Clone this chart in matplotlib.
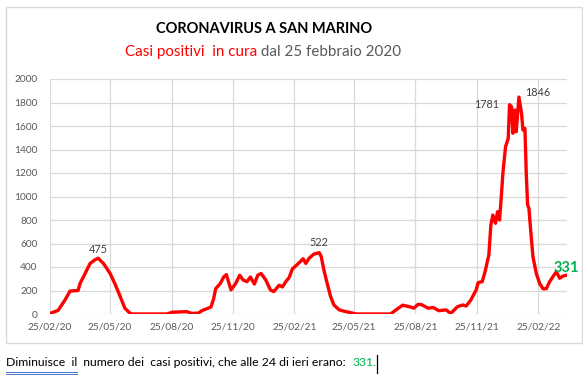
import matplotlib
matplotlib.use('Agg')
import matplotlib.pyplot as plt
import matplotlib.dates as mdates
from matplotlib.lines import Line2D
from matplotlib.patches import Rectangle
import pandas as pd

dates = [
    '2020-02-25', '2020-03-08', '2020-03-18', '2020-03-26', '2020-04-07', '2020-04-10',
    '2020-04-18', '2020-04-25', '2020-05-02', '2020-05-07', '2020-05-15', '2020-05-25',
    '2020-06-01', '2020-06-09', '2020-06-16', '2020-06-24', '2020-06-26', '2020-08-18',
    '2020-08-26', '2020-09-17', '2020-09-24', '2020-10-04', '2020-10-10', '2020-10-19',
    '2020-10-23', '2020-10-27', '2020-10-30', '2020-11-06', '2020-11-11', '2020-11-15',
    '2020-11-22', '2020-11-29', '2020-12-05', '2020-12-10', '2020-12-16', '2020-12-21',
    '2020-12-27', '2021-01-01', '2021-01-06', '2021-01-13', '2021-01-20', '2021-01-25',
    '2021-02-02', '2021-02-07', '2021-02-12', '2021-02-17', '2021-02-22', '2021-03-01',
    '2021-03-10', '2021-03-14', '2021-03-19', '2021-03-26', '2021-04-03', '2021-04-06',
    '2021-04-10', '2021-04-15', '2021-04-20', '2021-04-25', '2021-05-03', '2021-05-13',
    '2021-05-25', '2021-05-28', '2021-07-19', '2021-07-27', '2021-08-06', '2021-08-16',
    '2021-08-23', '2021-08-29', '2021-09-03', '2021-09-13', '2021-09-21', '2021-09-29',
    '2021-10-10', '2021-10-17', '2021-10-27', '2021-11-04', '2021-11-09', '2021-11-16',
    '2021-11-24', '2021-11-27', '2021-12-03', '2021-12-07', '2021-12-13', '2021-12-16',
    '2021-12-19', '2021-12-23', '2021-12-26', '2021-12-29', '2022-01-01', '2022-01-03',
    '2022-01-07', '2022-01-11', '2022-01-13', '2022-01-16', '2022-01-18', '2022-01-21',
    '2022-01-23', '2022-01-27', '2022-01-31', '2022-02-02', '2022-02-05', '2022-02-07',
    '2022-02-09', '2022-02-11', '2022-02-14', '2022-02-17', '2022-02-22', '2022-02-27',
    '2022-03-04', '2022-03-09', '2022-03-14', '2022-03-19', '2022-03-24', '2022-03-29',
    '2022-04-03', '2022-04-09',
]
values = [
    5, 30, 115, 195, 200, 260,
    350, 430, 460, 475, 430, 345,
    260, 150, 50, 5, 0, 0,
    15, 20, 5, 8, 30, 50,
    60, 130, 215, 260, 315, 335,
    205, 260, 330, 290, 275, 315,
    255, 330, 345, 290, 205, 190,
    245, 230, 275, 310, 385, 420,
    470, 430, 475, 510, 522, 490,
    375, 260, 150, 77, 35, 20,
    5, 0, 0, 35, 75, 62,
    50, 82, 80, 50, 55, 28,
    35, 5, 62, 77, 68, 119,
    204, 267, 275, 352, 502, 757,
    842, 772, 871, 800, 1027, 1197,
    1424, 1495, 1781, 1764, 1538, 1736,
    1551, 1846, 1708, 1566, 1580, 1197,
    928, 899, 687, 488, 346, 261,
    215, 215, 275, 318, 360, 304,
    323, 331,
]

label_dates = ['2020-05-07', '2021-04-03', '2022-01-13', '2022-01-27']
label_values = [475, 522, 1781, 1846]
last_value = 331

title = 'CORONAVIRUS A SAN MARINO'
subtitle_red = 'Casi positivi  in cura'
subtitle_gray = ' dal 25 febbraio 2020'
footer_a = 'Diminuisce  il'
footer_b = '  numero dei  casi positivi, che alle 24 di ieri erano:  '
footer_c = '331.'

FONT = 'Lato'
W, H = 583, 379
fig = plt.figure(figsize=(W / 100, H / 100), dpi=100)
fig.patch.set_facecolor('white')

# chart frame
fig.add_artist(Rectangle((6 / W, 1 - 343 / H), (582 - 6) / W, (343 - 7) / H,
                         transform=fig.transFigure, fill=False,
                         edgecolor='#d9d9d9', lw=1))

ax = fig.add_axes([50 / W, 1 - 314 / H, (567 - 50) / W, (314 - 79) / H])
x = pd.to_datetime(dates)
ax.plot(x, values, color='#ff0000', lw=2.4, solid_joinstyle='round', zorder=3)

ax.set_xlim(pd.Timestamp('2020-02-25'), pd.Timestamp('2022-04-09'))
ax.set_ylim(0, 2000)
ax.set_yticks(range(0, 2001, 200))
ax.xaxis.set_major_locator(mdates.MonthLocator(bymonth=(2, 5, 8, 11), bymonthday=25))
ax.xaxis.set_major_formatter(mdates.DateFormatter('%d/%m/%y'))
ax.grid(True, color='#d9d9d9', lw=0.9, zorder=0)
ax.set_axisbelow(True)
for s in ax.spines.values():
    s.set_visible(False)
ax.tick_params(length=0, colors='#595959', labelsize=7.3)
ax.tick_params(axis='y', pad=9)
ax.tick_params(axis='x', pad=6)
for lab in ax.get_xticklabels() + ax.get_yticklabels():
    lab.set_family(FONT)

offsets = [(0, 9), (0, 10), (-23, 0), (19, 5)]
for d, v, off in zip(label_dates, label_values, offsets):
    ax.annotate(str(v), xy=(pd.Timestamp(d), v), xytext=off, textcoords='offset pixels',
                ha='center', va='center', fontsize=7.8, color='#404040', family=FONT)
ax.annotate(str(last_value), xy=(x[-1], values[-1]), xytext=(-1, 7), textcoords='offset pixels',
            ha='center', va='center', fontsize=10.5, color='#00b050', fontweight='bold',
            family=FONT, annotation_clip=False)

fig.text(264 / W, 1 - 29 / H, title, ha='center', va='center', fontsize=10.5,
         fontweight='bold', color='black', family=FONT)
t1 = fig.text(125 / W, 1 - 52 / H, subtitle_red, ha='left', va='center', fontsize=10.9,
              color='#ff0000', family=FONT)
fig.canvas.draw()
r = fig.canvas.get_renderer()
bb = t1.get_window_extent(r)
fig.text(bb.x1 / W, 1 - 52 / H, subtitle_gray, ha='left', va='center', fontsize=10.9,
         color='#595959', family=FONT)

FS = 8.85
fa = fig.text(6 / W, 1 - 362 / H, footer_a, ha='left', va='center', fontsize=FS,
              color='black', family=FONT)
fig.canvas.draw()
ba = fa.get_window_extent(r)
fb = fig.text(ba.x1 / W, 1 - 362 / H, footer_b, ha='left', va='center', fontsize=FS,
              color='black', family=FONT)
fig.canvas.draw()
bbb = fb.get_window_extent(r)
fc = fig.text(bbb.x1 / W, 1 - 362 / H, footer_c, ha='left', va='center', fontsize=FS,
              color='#00b050', family=FONT)
fig.canvas.draw()
bc = fc.get_window_extent(r)
# spell-check style double underline and text cursor
for yy in (372, 374):
    fig.add_artist(Line2D([ba.x0 / W, ba.x1 / W], [1 - yy / H, 1 - yy / H],
                          transform=fig.transFigure, color='#4472c4', lw=0.7))
fig.add_artist(Line2D([(bc.x1 + 1) / W, (bc.x1 + 1) / W], [1 - 355 / H, 1 - 373 / H],
                      transform=fig.transFigure, color='black', lw=0.9))

fig.savefig('out.png', dpi=100)
